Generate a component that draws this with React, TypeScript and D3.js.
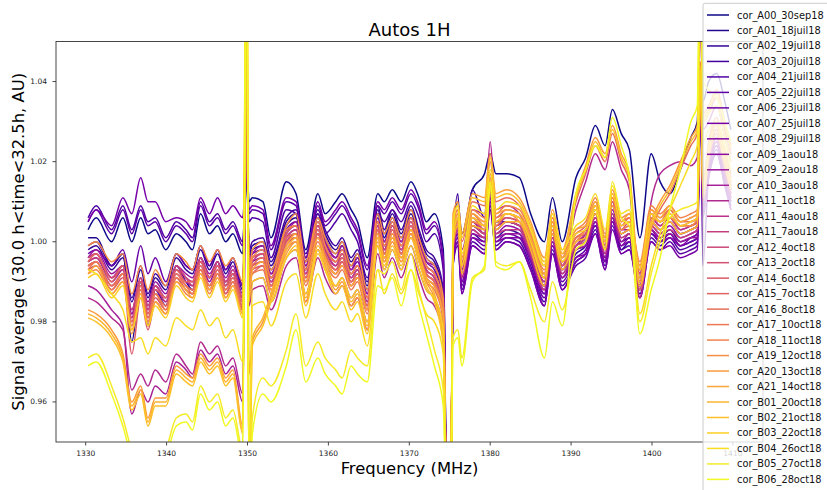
import React from "react";
import * as d3 from "d3";

// Frequency samples (MHz) shared by all series
const freqMHz = [
  1330.3, 1331.3, 1333.2, 1334.6, 1335.7, 1336.8, 1337.7, 1338.6, 1339.9, 1341.2, 1342.4, 1343.2, 1344.2, 1345.3, 1346.3, 1347.3, 1348.2, 1349.4,
  1349.9, 1350.2,
  1350.6, 1351.9, 1352.9, 1354.8, 1356.0, 1357.2, 1358.7, 1359.6, 1360.9, 1361.7, 1362.8, 1363.6, 1364.8, 1366.1, 1366.9, 1367.9, 1369.0, 1370.2, 1371.2, 1372.1, 1373.1, 1374.2,
  1374.7, 1375.1,
  1375.4, 1376.0, 1376.5, 1377.8, 1379.3, 1380.0, 1380.7, 1382.0, 1383.6, 1385.0, 1386.7, 1387.7, 1388.9, 1390.6, 1391.8, 1393.0, 1394.2, 1395.1, 1396.2, 1397.2, 1398.5, 1399.9, 1401.0, 1402.2, 1403.5, 1404.8, 1405.6, 1406.0, 1406.3, 1407.0, 1408.0, 1409.0, 1409.75,
];

// Signal average, stored as deviation from 1.000 in thousandths (per mille)
const A00_30sep18 = [3, 6, 0, 6, 0, 6, 2, 3, -2, 2, 0, -2, 7, 2, 4, 0, 2, -3, 20, 10, 11, 10, 1, 15, 12, -2, 12, 7, 10, 12, 8, 5, -4, 12, 10, 13, 10, 15, 11, 5, 7, -2, -75, -75, 3, 10, 2, 13, 17, 22, 17, 17, 16, 7, 0, 11, 0, 16, 21, 29, 24, 33, 27, 23, 1, 22, 15, 12, 18, 26, 30, 60, 35, 40, 42, 35, 28];
const A01_18juil18 = [1, 1, -6, -3, -25, -10, -21, -12, -16, -6, -10, -12, -4, -9, -5, -11, -8, -17, 19, -4, -2, -1, -7, 4, 6, -5, 6, 1, -3, -1, -6, -4, -12, 7, 1, 6, 1, 7, 1, -4, -6, -14, -75, -75, -1, 4, -8, 4, 2, 13, 3, 5, 4, -2, -11, 2, -7, -1, 1, 7, -2, 9, 2, 3, -9, 5, 3, 5, 2, 3, 4, 41, 11, 21, 27, 19, 13];
const A02_19juil18 = [-2, -1, -7, -4, -15, -7, -14, -9, -12, -4, -7, -8, -2, -7, -3, -8, -5, -12, 20, -3, -1, 0, -6, 5, 7, -4, 7, 2, -2, 0, -5, -3, -11, 8, 2, 7, 2, 8, 2, -3, -5, -13, -75, -75, -3, 2, -10, 2, 0, 11, 1, 3, 2, -4, -13, 0, -9, -3, -1, 5, -4, 7, 0, 1, -11, 3, 1, 3, 0, 1, 2, 39, 9, 19, 25, 17, 11];
const A03_20juil18 = [-1, 0, -6, -3, -14, -6, -13, -8, -11, -3, -6, -7, -1, -6, -2, -7, -4, -11, 22, -2, 0, 1, -5, 6, 8, -3, 8, 3, -1, 1, -4, -2, -10, 9, 3, 8, 3, 9, 3, -2, -4, -12, -75, -75, -1, 12, -6, 13, 6, 14, 5, 5, 4, -2, -10, 2, -7, -2, -1, 4, -5, 6, -2, 0, -11, 2, 0, 2, -1, 0, 1, 40, 10, 20, 26, 18, 12];
const A04_21juil18 = [6, 9, 3, 9, 3, 9, 5, 6, 1, 5, 3, 1, 10, 5, 7, 3, 5, 0, 19, 5, 6, 5, -4, 8, 7, -7, 7, 2, 5, 7, 3, 0, -9, 7, 5, 8, 5, 10, 6, 0, 2, -7, -75, -75, -5, 0, -12, 0, -2, 9, -1, 1, 0, -6, -15, -2, -11, -5, -3, 3, -6, 5, -2, -1, -13, 1, -1, 1, -2, -1, 0, 37, 7, 17, 23, 15, 9];
const A05_22juil18 = [5, 8, 2, 8, 2, 8, 4, 5, 0, 4, 2, 0, 9, 4, 6, 2, 4, -1, 20, 7, 8, 7, -2, 10, 9, -5, 9, 4, 7, 9, 5, 2, -7, 9, 7, 10, 7, 12, 8, 2, 4, -5, -75, -75, -6, -1, -13, -1, -3, 8, -2, 0, -1, -7, -16, -3, -12, -6, -4, 2, -7, 4, -3, -2, -14, 0, -2, 0, -3, -2, -1, 36, -6, 16, 22, 14, 8];
const A06_23juil18 = [-3, -2, -6, -2, -10, -1, -8, -4, -10, -3, -6, -7, -1, -6, -2, -7, -4, -11, 21, -4, -3, -2, -8, 3, 5, -6, 5, 0, -4, -2, -7, -5, -13, 6, 0, 5, 0, 6, 0, -5, -7, -15, -75, -75, -4, 1, -11, 1, -1, 10, 0, 2, 1, -5, -14, -1, -10, -4, -2, 4, -5, 6, -1, 0, -12, 2, 0, 2, -1, 0, 1, 38, 8, 18, 24, 16, 10];
const A07_25juil18 = [5, 8, 4, 11, 7, 16, 10, 10, 5, 6, 5, 3, 11, 7, 11, 7, 9, 6, 19, 8, 9, 8, -1, 11, 10, -4, 10, 5, 8, 10, 6, 3, -6, 10, 8, 11, 8, 13, 9, 3, 5, -4, -75, -75, -6, 0, -13, -1, -3, 8, -2, 0, -1, -7, -16, -3, -12, -5, -3, 2, -7, 3, -3, -2, -14, 0, -2, -1, -4, -3, -2, 36, 6, 16, 22, 14, 8];
const A08_29juil18 = [-4, -3, -9, -6, -17, -9, -16, -11, -14, -6, -9, -10, -4, -9, -5, -10, -7, -14, 24, -6, -4, -3, -9, 2, 4, -7, 4, -1, -5, -3, -8, -6, -14, 5, -1, 4, -1, 5, -1, -6, -8, -16, -75, -75, -4, 2, -10, 1, 0, 10, 0, 1, 1, -4, -13, -1, -9, -4, -3, 5, -5, 5, -1, 1, -12, 3, 0, 1, -1, 1, 2, 38, 8, 18, 24, 16, 10];
const A09_1aou18 = [-5, -4, -10, -7, -18, -10, -17, -12, -15, -7, -10, -11, -5, -10, -6, -11, -8, -15, 25, -7, -5, -4, -10, 1, 3, -8, 3, -2, -6, -4, -9, -7, -15, 4, -2, 3, -2, 4, -2, -7, -9, -17, -75, -75, -2, 3, -9, 3, 1, 12, 2, 4, 3, -3, -12, 1, -8, -2, 0, 6, -3, 8, 1, 2, -10, 4, 2, 4, 1, 2, 3, 40, 10, 20, 26, 18, 12];
const A09_2aou18 = [-4, -2, -8, -6, -18, -10, -15, -10, -13, -6, -8, -9, -4, -8, -5, -9, -6, -13, 26, -5, -3, -1, -8, 2, 5, -6, 4, 0, -4, -1, -7, -4, -13, 5, 0, 4, 0, 6, 1, -5, -6, -15, -75, -75, -3, 3, -9, 2, 1, 11, 1, 2, 2, -4, -12, 0, -9, -2, -1, 5, -4, 6, 0, 2, -11, 3, 1, 2, 0, 1, 1, 39, 9, 19, 25, 17, 11];
const A10_3aou18 = [-11, -12, -17, -21, -43, -37, -40, -36, -38, -30, -32, -34, -27, -30, -28, -33, -31, -40, 30, -14, -10, -9, -15, -4, -2, -13, -2, -7, -11, -9, -14, -12, -20, -1, -7, -2, -7, -1, -7, -12, -14, -22, -75, -75, 0, 4, -7, 5, 2, 13, 4, 5, 4, -1, -11, 3, -6, -1, 2, 7, -1, 9, 3, 3, -8, 6, 4, 6, 3, 4, 5, 41, 11, 21, 27, 19, 13];
const A11_1oct18 = [-14, -15, -19, -22, -37, -33, -36, -32, -35, -28, -31, -33, -25, -28, -26, -31, -29, -38, 34, -16, -12, -11, -17, -6, -4, -15, -4, -9, -13, -11, -16, -14, -22, -3, -9, -4, -9, -3, -9, -14, -16, -24, -75, -75, 3, 6, -2, 8, 7, 25, 8, 9, 7, 1, -8, 4, -6, 8, 15, 22, 18, 25, 18, 13, -14, 10, 17, 19, 20, 19, 21, 58, 28, 30, 34, 26, 20];
const A11_4aou18 = [-6, -5, -11, -8, -19, -11, -18, -13, -16, -8, -11, -12, -6, -11, -7, -12, -9, -16, 27, -8, -6, -5, -11, 0, 2, -9, 2, -3, -7, -5, -10, -8, -16, 3, -3, 2, -3, 3, -3, -8, -10, -18, -75, -75, 0, 5, -7, 5, 3, 14, 4, 6, 5, -1, -10, 3, -6, 0, 2, 8, -1, 10, 3, 4, -8, 6, 4, 6, 3, 4, 5, 42, 12, 22, 28, 20, 14];
const A11_7aou18 = [-5, -4, -9, -7, -19, -9, -17, -11, -15, -7, -9, -11, -5, -9, -6, -10, -8, -14, 26, -7, -5, -3, -10, 1, 3, -8, 2, -2, -6, -3, -9, -7, -15, 4, -2, 3, -2, 4, -2, -7, -9, -17, -75, -75, -2, 3, -9, 3, 1, 12, 2, 3, 3, -3, -12, 1, -8, -1, 0, 6, -3, 7, 1, 2, -10, 4, 2, 3, 1, 2, 3, 40, 10, 20, 26, 18, 12];
const A12_4oct18 = [-4, -3, -9, -6, -17, -9, -16, -11, -14, -6, -9, -10, -4, -9, -5, -10, -7, -14, 28, -8, -6, -5, -11, 0, 2, -9, 2, -3, -7, -5, -10, -8, -16, 3, -3, 2, -3, 3, -3, -8, -10, -18, -75, -75, -1, 4, -8, 4, 2, 13, 3, 5, 4, -2, -11, 2, -7, -1, 1, 7, -2, 9, 2, 3, -9, 5, 3, 5, 2, 3, 4, 41, 11, 21, 27, 19, 13];
const A13_2oct18 = [-7, -6, -12, -9, -20, -12, -19, -14, -17, -9, -12, -13, -7, -12, -8, -13, -10, -17, 29, -9, -7, -6, -12, -1, 1, -10, 1, -4, -8, -6, -11, -9, -17, 2, -4, 1, -4, 2, -4, -9, -11, -19, -75, -75, 1, 6, -6, 6, 4, 15, 5, 7, 6, 0, -9, 4, -5, 1, 3, 9, 0, 11, 4, 5, -7, 7, 5, 7, 4, 5, 6, 43, 13, 23, 29, 21, 15];
const A14_6oct18 = [-6, -5, -11, -8, -28, -14, -22, -15, -18, -9, -12, -13, -7, -12, -8, -13, -10, -17, 30, -6, -4, -3, -9, 2, 4, -7, 4, -1, -5, -3, -8, -6, -14, 5, -1, 4, -1, 5, -1, -6, -8, -16, -75, -75, 1, 5, -6, 6, 3, 14, 5, 6, 5, 0, -9, 3, -6, 1, 2, 8, 0, 10, 3, 5, -8, 7, 5, 6, 4, 4, 5, 42, 12, 22, 28, 20, 14];
const A15_7oct18 = [-5, -3, -10, -6, -20, -10, -18, -12, -14, -7, -10, -10, -5, -9, -6, -11, -8, -15, 31, -9, -8, -6, -12, 0, 1, -10, 2, -4, -8, -5, -11, -9, -17, 3, -4, 1, -3, 2, -4, -9, -11, -19, -75, -75, 2, 7, -5, 7, 5, 16, 6, 8, 7, 1, -8, 5, -4, 2, 4, 10, 1, 12, 5, 6, -6, 8, 6, 8, 5, 6, 7, 44, 14, 24, 30, 22, 16];
const A16_8oct18 = [-6, -5, -11, -8, -21, -11, -19, -13, -16, -8, -11, -12, -6, -11, -7, -12, -9, -16, 32, -8, -6, -4, -11, 1, 2, -9, 3, -3, -7, -4, -10, -8, -16, 3, -3, 3, -3, 4, -3, -8, -10, -18, -75, -75, 5, 8, 0, 10, 9, 20, 10, 11, 9, 3, -6, 6, -4, 10, 17, 24, 20, 27, 20, 15, -12, 3, 8, 12, 18, 24, 27, 60, 30, 32, 36, 28, 22];
const A17_10oct18 = [-7, -5, -12, -8, -22, -12, -20, -13, -17, -9, -11, -13, -7, -11, -8, -12, -10, -17, 33, -10, -8, -7, -13, -2, 0, -11, 0, -5, -9, -7, -12, -10, -18, 1, -5, 0, -5, 1, -5, -10, -12, -20, -75, -75, 1, 6, -5, 7, 4, 15, 6, 7, 6, 1, -9, 5, -5, 1, 3, 9, 1, 11, 4, 6, -7, 7, 5, 8, 5, 5, 6, 43, 13, 23, 29, 21, 15];
const A18_11oct18 = [-8, -7, -13, -10, -21, -13, -20, -15, -18, -10, -13, -14, -8, -13, -9, -14, -11, -18, 45, -12, -4, -2, -9, 3, 4, -7, 5, -1, -5, -2, -8, -6, -14, 5, -1, 5, -1, 6, -1, -6, -8, -16, -75, -75, 3, 8, -4, 8, 6, 17, 7, 9, 8, 2, -7, 6, -3, 3, 5, 11, 2, 13, 6, 7, -5, 9, 7, 9, 6, 7, 8, 45, 15, 25, 31, 23, 17];
const A19_12oct18 = [-1, 0, -5, -3, -13, -6, -12, -7, -11, -3, -5, -7, -1, -5, -2, -6, -4, -10, 45, -8, -2, 0, -7, 4, 7, -5, 6, 1, -3, 0, -6, -3, -12, 7, 2, 6, 1, 8, 1, -4, -6, -14, -75, -75, 0, 5, -6, 5, 4, 14, 4, 7, 5, -1, -9, 3, -5, 0, 3, 8, -1, 11, 3, 4, -7, 6, 5, 6, 4, 4, 6, 42, 12, 22, 28, 20, 14];
const A20_13oct18 = [-17, -18, -22, -28, -40, -36, -44, -39, -39, -31, -33, -34, -28, -31, -29, -34, -32, -46, 60, -33, -25, -20, -14, -3, 0, -15, -2, -6, -12, -10, -16, -14, -22, 0, -5, 0, -5, 2, -4, -10, -14, -25, -75, -75, 7, 10, 2, 12, 11, 22, 12, 13, 11, 5, -4, 8, -2, 12, 19, 26, 22, 29, 22, 17, -10, 5, 10, 14, 20, 26, 29, 62, 32, 34, 38, 30, 24];
const A21_14oct18 = [-8, -6, -13, -10, -23, -13, -21, -15, -18, -10, -12, -14, -8, -12, -9, -14, -11, -18, 50, -15, -7, -5, -12, -1, 2, -10, 1, -4, -8, -6, -11, -9, -17, 2, -4, 2, -4, 3, -4, -9, -11, -19, -75, -75, 2, 7, -4, 7, 5, 16, 7, 8, 7, 1, -8, 5, -4, 3, 4, 10, 1, 12, 5, 7, -6, 8, 6, 9, 5, 6, 7, 44, 14, 24, 30, 22, 16];
const B01_20oct18 = [-18, -19, -23, -29, -41, -37, -45, -40, -40, -32, -34, -35, -29, -32, -30, -35, -33, -47, 90, -70, -24, -19, -13, -2, 1, -14, -1, -5, -11, -9, -15, -13, -21, 1, -4, 1, -4, 3, -3, -9, -13, -24, -75, -75, -1, 4, -8, 4, 3, 13, 3, 5, 5, -2, -11, 2, -7, 0, 1, 7, -2, 9, 2, 3, -9, 5, 3, 5, 2, 3, 4, 41, 11, 21, 27, 19, 13];
const B02_21oct18 = [-19, -20, -24, -30, -42, -38, -46, -41, -41, -33, -35, -36, -30, -33, -31, -36, -34, -48, 90, -70, -26, -21, -15, -4, -1, -16, -3, -7, -13, -11, -17, -15, -23, -1, -6, -1, -6, 1, -5, -11, -15, -26, -75, -75, 6, 9, 1, 11, 10, 21, 11, 12, 10, 4, -5, 7, -3, 11, 18, 25, 21, 28, 21, 16, -11, 4, 9, 13, 19, 25, 28, 61, 31, 33, 37, 29, 23];
const B03_22oct18 = [-9, -8, -14, -11, -22, -14, -21, -16, -19, -11, -14, -15, -9, -14, -10, -15, -12, -19, 90, -70, -10, -9, -15, -4, -2, -13, -2, -7, -11, -9, -14, -12, -20, -1, -7, -2, -7, -1, -7, -12, -14, -22, -75, -75, 1, 6, -6, 6, 4, 15, 5, 7, 6, 0, -9, 4, -5, 2, 3, 9, 0, 12, 4, 5, -7, 7, 5, 7, 4, 5, 6, 43, 13, 23, 29, 21, 15];
const B04_26oct18 = [-7, -8, -13, -17, -25, -24, -28, -24, -26, -19, -21, -22, -17, -21, -19, -24, -22, -30, 90, -70, -16, -15, -21, -10, -8, -19, -8, -13, -17, -15, -20, -18, -26, -7, -13, -8, -13, -7, -13, -18, -20, -28, -75, -75, 4, 9, -3, 9, 7, 18, 8, 10, 9, 3, -6, 7, -2, 4, 6, 12, 3, 14, 7, 8, -18, -6, 2, 8, 14, 20, 24, 90, 30, 32, 34, 26, 20];
const B05_27oct18 = [-29, -28, -36, -44, -52, -55, -56, -55, -52, -44, -43, -45, -36, -40, -38, -44, -42, -52, 90, -70, -44, -34, -36, -27, -18, -31, -25, -29, -32, -34, -27, -29, -31, -7, -8, -5, -12, -3, -12, -19, -27, -37, -75, -75, -24, -22, -29, -9, -7, 14, -5, -6, -5, -12, -20, -10, -17, -2, 0, 8, -2, 15, 6, 4, -20, -8, 0, 6, 8, 9, 10, 90, 25, 28, 30, 24, 18];
const B06_28oct18 = [-31, -30, -38, -46, -54, -57, -58, -57, -54, -46, -45, -47, -38, -42, -40, -46, -44, -54, 90, -70, -48, -38, -40, -31, -22, -35, -29, -33, -36, -38, -31, -33, -35, -11, -12, -9, -16, -7, -16, -23, -31, -41, -75, -75, -26, -24, -31, -10, -6, 15, -6, -7, -5, -14, -29, -15, -21, 12, 18, 24, 21, 31, 24, 16, -23, -12, -4, 8, 18, 30, 34, 90, 40, 38, 36, 30, 25];

const seriesNames = [
  "cor_A00_30sep18", "cor_A01_18juil18", "cor_A02_19juil18", "cor_A03_20juil18", "cor_A04_21juil18",
  "cor_A05_22juil18", "cor_A06_23juil18", "cor_A07_25juil18", "cor_A08_29juil18", "cor_A09_1aou18",
  "cor_A09_2aou18", "cor_A10_3aou18", "cor_A11_1oct18", "cor_A11_4aou18", "cor_A11_7aou18",
  "cor_A12_4oct18", "cor_A13_2oct18", "cor_A14_6oct18", "cor_A15_7oct18", "cor_A16_8oct18",
  "cor_A17_10oct18", "cor_A18_11oct18", "cor_A19_12oct18", "cor_A20_13oct18", "cor_A21_14oct18",
  "cor_B01_20oct18", "cor_B02_21oct18", "cor_B03_22oct18", "cor_B04_26oct18", "cor_B05_27oct18",
  "cor_B06_28oct18",
];
const seriesPermille = [
  A00_30sep18, A01_18juil18, A02_19juil18, A03_20juil18, A04_21juil18,
  A05_22juil18, A06_23juil18, A07_25juil18, A08_29juil18, A09_1aou18,
  A09_2aou18, A10_3aou18, A11_1oct18, A11_4aou18, A11_7aou18,
  A12_4oct18, A13_2oct18, A14_6oct18, A15_7oct18, A16_8oct18,
  A17_10oct18, A18_11oct18, A19_12oct18, A20_13oct18, A21_14oct18,
  B01_20oct18, B02_21oct18, B03_22oct18, B04_26oct18, B05_27oct18,
  B06_28oct18,
];

const xTickValues = [1330, 1340, 1350, 1360, 1370, 1380, 1390, 1400, 1410];
const yTickValues = [0.96, 0.98, 1.0, 1.02, 1.04];

const WIDTH = 827;
const HEIGHT = 490;
const PLOT = { left: 56, right: 763, top: 41.5, bottom: 442 };
const FONT = "DejaVu Sans";

export default function App() {
  const x = d3.scaleLinear().domain([1326.33, 1413.72]).range([PLOT.left, PLOT.right]);
  const y = d3.scaleLinear().domain([0.95, 1.05]).range([PLOT.bottom, PLOT.top]);
  const line = d3
    .line<number>()
    .defined((_, i) => i < freqMHz.length)
    .x((_, i) => x(freqMHz[i]))
    .y((v) => y(1 + v / 1000))
    .curve(d3.curveMonotoneX);
  const n = seriesNames.length;
  const colors = seriesNames.map((_, i) => d3.interpolatePlasma(i / (n - 1)));

  const legendX = 703;
  const legendY = 3.3;
  const legendStep = 15.48;

  return (
    <svg
      width={WIDTH}
      height={HEIGHT}
      style={{ position: "absolute", left: 0, top: 0 }}
      fontFamily={FONT}
    >
      <rect width={WIDTH} height={HEIGHT} fill="#ffffff" />
      <defs>
        <clipPath id="plotClip">
          <rect x={PLOT.left} y={PLOT.top} width={PLOT.right - PLOT.left} height={PLOT.bottom - PLOT.top} />
        </clipPath>
      </defs>
      <g clipPath="url(#plotClip)">
        {seriesPermille.map((s, i) => (
          <path
            key={seriesNames[i]}
            d={line(s) || ""}
            fill="none"
            stroke={colors[i]}
            strokeWidth={1.5}
            strokeLinejoin="round"
          />
        ))}
      </g>
      <rect
        x={PLOT.left}
        y={PLOT.top}
        width={PLOT.right - PLOT.left}
        height={PLOT.bottom - PLOT.top}
        fill="none"
        stroke="#333"
        strokeWidth={0.9}
      />
      {xTickValues.map((t) => (
        <g key={"xt" + t}>
          <line x1={x(t)} x2={x(t)} y1={PLOT.bottom} y2={PLOT.bottom + 3.5} stroke="#333" strokeWidth={0.9} />
          <text x={x(t)} y={456} textAnchor="middle" fontSize={7.5} fill="#222">
            {t}
          </text>
        </g>
      ))}
      {yTickValues.map((t) => (
        <g key={"yt" + t}>
          <line x1={PLOT.left - 3.5} x2={PLOT.left} y1={y(t)} y2={y(t)} stroke="#333" strokeWidth={0.9} />
          <text x={47} y={y(t)} textAnchor="end" dominantBaseline="central" fontSize={7.5} fill="#222">
            {d3.format(".2f")(t)}
          </text>
        </g>
      ))}
      <text x={(PLOT.left + PLOT.right) / 2} y={36} textAnchor="middle" fontSize={18} fill="#000">
        Autos 1H
      </text>
      <text x={(PLOT.left + PLOT.right) / 2} y={474} textAnchor="middle" fontSize={16.4} fill="#000">
        Frequency (MHz)
      </text>
      <text
        transform={`translate(24, ${(PLOT.top + PLOT.bottom) / 2}) rotate(-90)`}
        textAnchor="middle"
        fontSize={16.4}
        fill="#000"
      >
        Signal average (30.0 h&lt;time&lt;32.5h, AU)
      </text>
      <g>
        <rect
          x={legendX}
          y={legendY}
          width={150}
          height={500}
          rx={2}
          fill="#ffffff"
          fillOpacity={0.8}
          stroke="#cccccc"
          strokeWidth={1}
        />
        {seriesNames.map((name, i) => {
          const ly = 15 + i * legendStep;
          return (
            <g key={"lg" + name}>
              <line x1={707} x2={729} y1={ly} y2={ly} stroke={colors[i]} strokeWidth={1.5} />
              <text x={737} y={ly} dominantBaseline="central" fontSize={9.8} fill="#111">
                {name}
              </text>
            </g>
          );
        })}
      </g>
    </svg>
  );
}
